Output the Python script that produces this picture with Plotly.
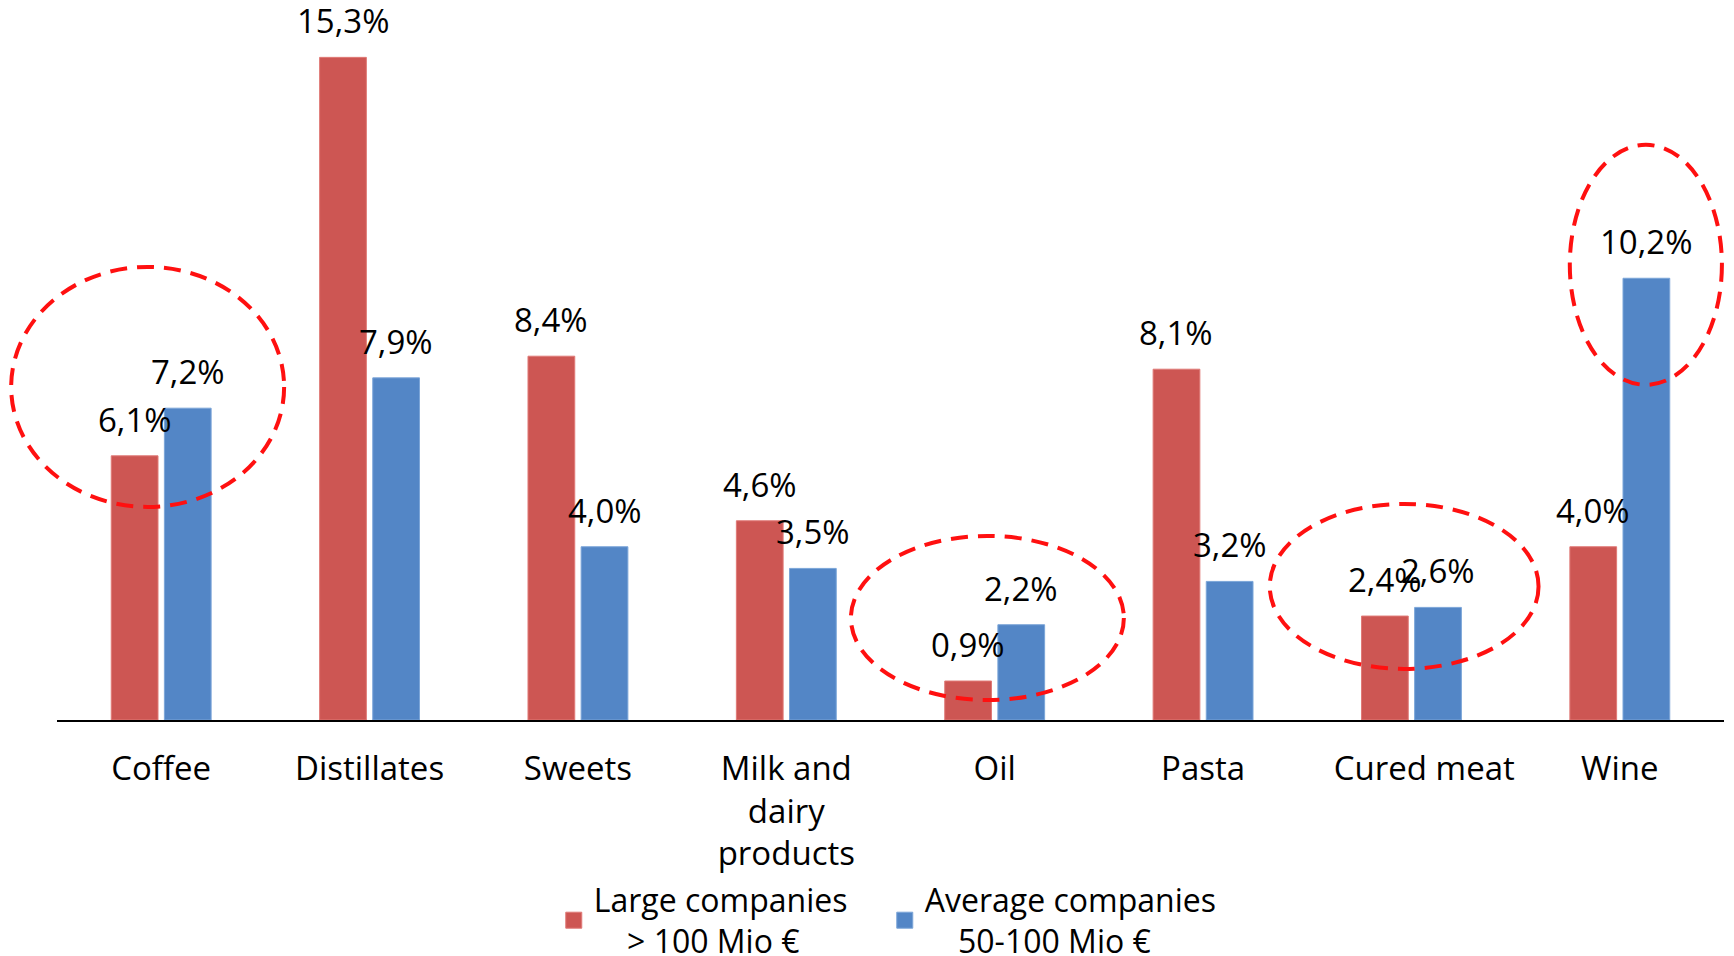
import plotly.graph_objects as go

categories = ["Coffee", "Distillates", "Sweets", "Milk and<br>dairy<br>products",
              "Oil", "Pasta", "\u00a0\u00a0\u00a0Cured meat", "Wine"]
large_companies = [6.1, 15.3, 8.4, 4.6, 0.9, 8.1, 2.4, 4.0]
average_companies = [7.2, 7.9, 4.0, 3.5, 2.2, 3.2, 2.6, 10.2]

large_name = "Large companies<br>\u00a0\u00a0\u00a0\u00a0> 100 Mio €"
average_name = "Average companies<br>\u00a0\u00a0\u00a0\u00a050-100 Mio €"

RED, BLUE = "#CD5653", "#5386C6"
RED_EDGE, BLUE_EDGE = "#E07A77", "#7BA5D8"

# highlighted groups: (x0, x1, y0, y1) in category-index / value units
highlights = [(-0.72, 0.59, 4.92, 10.46),
              (3.31, 4.62, 0.46, 4.25),
              (5.32, 6.61, 1.18, 4.99),
              (6.76, 7.49, 7.74, 13.28)]

FONT = "Open Sans, Noto Sans, sans-serif"
BARGAP, GROUPGAP = 0.49, 0.12
# the page body has an 8px margin, so the figure is 8px smaller than the window
FIG_W, FIG_H = 1726, 948
M_L, M_R, M_T, M_B = 49, 10, 0, 236
PLOT_W = FIG_W - M_L - M_R
Y_MAX = 16.44
X_RANGE = [-0.5, len(categories) - 0.5]
slot_px = PLOT_W / len(categories) * (1 - BARGAP) / 2

fig = go.Figure()
for name, vals, col, edge in [(large_name, large_companies, RED, RED_EDGE),
                              (average_name, average_companies, BLUE, BLUE_EDGE)]:
    fig.add_trace(go.Bar(
        x=categories, y=vals, name=name, showlegend=False,
        marker=dict(color=col, line=dict(color=edge, width=1)),
        hoverinfo="x+y",
    ))
    # legend entry with a larger square swatch
    fig.add_trace(go.Scatter(
        x=[None], y=[None], mode="markers", name=name,
        marker=dict(symbol="square", size=18, color=col, line=dict(color=edge, width=1)),
    ))

# value labels above the bars
for vals, sign in [(large_companies, -1), (average_companies, 1)]:
    for c, v in zip(categories, vals):
        fig.add_annotation(
            x=c, y=v, xref="x", yref="y", text=f"{v:.1f}%".replace(".", ","),
            showarrow=False, yanchor="bottom", xanchor="center",
            xshift=sign * slot_px / 2, yshift=12,
            font=dict(family=FONT, size=33, color="black"),
        )

def xp(v):
    return (v - X_RANGE[0]) / (X_RANGE[1] - X_RANGE[0])

for x0, x1, y0, y1 in highlights:
    fig.add_shape(type="circle", xref="paper", yref="paper",
                  x0=xp(x0), x1=xp(x1), y0=y0 / Y_MAX, y1=y1 / Y_MAX,
                  line=dict(color="#FF1010", width=4, dash="17px,10px"), layer="above")

fig.update_layout(
    width=FIG_W, height=FIG_H,
    margin=dict(l=M_L, r=M_R, t=M_T, b=M_B, autoexpand=False),
    paper_bgcolor="white", plot_bgcolor="white",
    separators=",.",
    barmode="group", bargap=BARGAP, bargroupgap=GROUPGAP,
    font=dict(family=FONT, size=32, color="black"),
    showlegend=True,
    legend=dict(orientation="h", x=0.298, y=0.0885, xanchor="left", yanchor="top",
                yref="container",
                font=dict(family=FONT, size=32, color="black"),
                entrywidth=286, entrywidthmode="pixels",
                bgcolor="rgba(0,0,0,0)", itemsizing="trace"),
    xaxis=dict(showline=True, linecolor="black", linewidth=2, ticks="",
               range=X_RANGE, autorange=False,
               ticklabelstandoff=18,
               showgrid=False, tickfont=dict(family=FONT, size=33, color="black"),
               zeroline=False),
    yaxis=dict(visible=False, range=[0, Y_MAX], autorange=False,
               showgrid=False, zeroline=False),
)

fig.write_html("out.html")
